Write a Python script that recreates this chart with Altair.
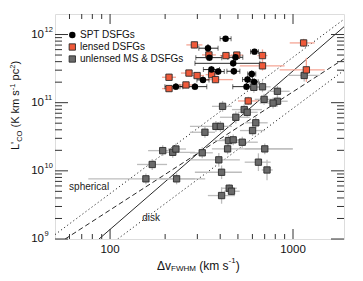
import altair as alt
import pandas as pd
import numpy as np

# ---------------- data ----------------
spt_x = [428, 343, 349, 616, 485, 471, 358, 390, 475, 595, 564, 613, 322, 557, 291, 229]
spt_y = [8.7e11, 6.3e11, 4.58e11, 5.61e11, 4.63e11, 3.78e11, 3.06e11, 2.86e11,
         2.89e11, 2.64e11, 2.18e11, 2.02e11, 2.16e11, 1.72e11, 1.72e11, 1.72e11]
spt_xlo = [0.03, 0.05, 0.074, 0.022, 0.042, 0.209, 0.044, 0.033, 0.038, 0.022, 0.027, 0.022, 0.033, 0.075, 0.082, 0.06]
spt_xhi = [0.03, 0.055, 0.068, 0.022, 0.04, 0.146, 0.044, 0.033, 0.033, 0.022, 0.027, 0.022, 0.033, 0.034, 0.065, 0.038]
spt_ydex = [0.03, 0.06, 0.05, 0.04, 0.05, 0.05, 0.05, 0.05, 0.05, 0.05, 0.05, 0.05, 0.05, 0.05, 0.05, 0.05]

len_x = [289, 347, 430, 681, 681, 270, 299, 359, 377, 260, 210, 210, 1143, 1183, 569, 493]
len_y = [7.04e11, 5.02e11, 4.91e11, 4.91e11, 3.47e11, 2.72e11, 2.50e11, 2.58e11,
         2.18e11, 1.82e11, 2.36e11, 1.61e11, 7.53e11, 3.03e11, 1.06e11, 4.99e11]
len_xlo = [0.044, 0.038, 0.033, 0.027, 0.124, 0.044, 0.038, 0.033, 0.05, 0.038, 0.038, 0.038, 0.076, 0.146, 0.056, 0.033]
len_xhi = [0.044, 0.038, 0.033, 0.027, 0.121, 0.044, 0.038, 0.033, 0.095, 0.038, 0.038, 0.038, 0.06, 0.1, 0.053, 0.033]
len_ydex = [0.05, 0.05, 0.05, 0.09, 0.07, 0.05, 0.05, 0.05, 0.05, 0.05, 0.05, 0.05, 0.06, 0.176, 0.06, 0.05]

gray_x = [681, 611, 1151, 822, 695, 822, 778, 412, 541, 562,
          487, 626, 379, 401, 601, 330, 444, 471, 528, 439,
          701, 194, 220, 229, 319, 170, 393, 647, 157, 231,
          407, 721, 448, 461, 407]
gray_y = [1.71e11, 1.68e11, 2.51e11, 1.47e11, 1.12e11, 1.05e11, 9.87e10, 8.83e10, 7.92e10, 7.23e10,
          6.11e10, 5.07e10, 4.49e10, 4.49e10, 3.90e10, 3.68e10, 2.78e10, 2.85e10, 2.63e10, 2.10e10,
          2.10e10, 1.98e10, 1.87e10, 2.09e10, 1.84e10, 1.24e10, 1.45e10, 1.34e10, 7.63e9, 7.63e9,
          9.53e9, 1.03e10, 5.56e9, 5.02e9, 4.34e9]
gray_xlo = [0.044, 0.033, 0.09, 0.053, 0.051, 0.053, 0.073, 0.058, 0.067, 0.052,
            0.087, 0.06, 0.142, 0.046, 0.069, 0.082, 0.075, 0.062, 0.079, 0.086,
            0.109, 0.08, 0.069, 0.044, 0.067, 0.083, 0.158, 0.075, 0.315, 0.091,
            0.146, 0.029, 0.045, 0.042, 0.075]
gray_xhi = [0.044, 0.033, 0.085, 0.067, 0.058, 0.056, 0.047, 0.051, 0.097, 0.057,
            0.076, 0.065, 0.049, 0.063, 0.067, 0.055, 0.089, 0.064, 0.085, 0.356,
            0.153, 0.073, 0.122, 0.055, 0.058, 0.081, 0.115, 0.067, 0.324, 0.1,
            0.111, 0.031, 0.042, 0.045, 0.073]
gray_ydex = [0.08, 0.08, 0.09, 0.08, 0.08, 0.08, 0.08, 0.08, 0.08, 0.08,
             0.09, 0.08, 0.08, 0.08, 0.08, 0.08, 0.08, 0.08, 0.08, 0.08,
             0.08, 0.08, 0.08, 0.08, 0.08, 0.08, 0.10, 0.13, 0.08, 0.08,
             0.10, 0.15, 0.06, 0.06, 0.12]

# model / relation lines (end points)
solid_x = [87, 1900]
solid_y = [1e9, 1.3e12]
dash_x = [56.8, 1900]
dash_y = [1e9, 4.4e11]
dotu_x = [50, 1900]
dotu_y = [1.16e9, 1.675e12]
dotl_x = [110, 1900]
dotl_y = [1e9, 2.98e11]

x_major = [100, 1000]
x_major_lbl = ["100", "1000"]
x_minor = [60, 70, 80, 90, 200, 300, 400, 500, 600, 700, 800, 900]
y_major = [1e9, 1e10, 1e11, 1e12]
y_major_exp = ["9", "10", "11", "12"]
y_minor = [2e9, 3e9, 4e9, 5e9, 6e9, 7e9, 8e9, 9e9,
           2e10, 3e10, 4e10, 5e10, 6e10, 7e10, 8e10, 9e10,
           2e11, 3e11, 4e11, 5e11, 6e11, 7e11, 8e11, 9e11]

legend_labels = ["SPT DSFGs", "lensed DSFGs", "unlensed MS & DSFGs"]

# ---------------- build ----------------
W, H = 289, 225
FONT = "Liberation Sans"
RED = "#f05a3a"
GRAYF = "#6a6a6a"

xs = alt.Scale(type="log", domain=[50, 1900], nice=False)
ys = alt.Scale(type="log", domain=[1e9, 2e12], nice=False)


def grp(xv, yv, xlo, xhi, ydex):
    df = pd.DataFrame({"x": xv, "y": yv})
    df["xl"] = df["x"] / 10 ** np.array(xlo)
    df["xh"] = df["x"] * 10 ** np.array(xhi)
    df["yl"] = df["y"] / 10 ** np.array(ydex)
    df["yh"] = df["y"] * 10 ** np.array(ydex)
    return df


spt = grp(spt_x, spt_y, spt_xlo, spt_xhi, spt_ydex)
lens = grp(len_x, len_y, len_xlo, len_xhi, len_ydex)
gray = grp(gray_x, gray_y, gray_xlo, gray_xhi, gray_ydex)

X = lambda f: alt.X(f, type="quantitative", scale=xs, axis=None)
Y = lambda f: alt.Y(f, type="quantitative", scale=ys, axis=None)


def line(xv, yv, dash):
    df = pd.DataFrame({"x": xv, "y": yv})
    kw = dict(color="#111", strokeWidth=0.9, clip=True)
    if dash:
        kw["strokeDash"] = dash
    return alt.Chart(df).mark_line(**kw).encode(x=X("x"), y=Y("y"))


lines = [line(solid_x, solid_y, None), line(dash_x, dash_y, [5, 3]),
         line(dotu_x, dotu_y, [1.2, 2.6]), line(dotl_x, dotl_y, [1.2, 2.6])]


def errbars(df, color, width):
    h = alt.Chart(df).mark_rule(color=color, strokeWidth=width, clip=True).encode(
        x=X("xl"), x2="xh", y=Y("y"))
    v = alt.Chart(df).mark_rule(color=color, strokeWidth=width, clip=True).encode(
        x=X("x"), y=Y("yl"), y2="yh")
    return [h, v]


gray_eb = errbars(gray, "#bdbdbd", 1.3)
red_eb = errbars(lens, "#f5a595", 1.3)
blk_eb = errbars(spt, "#111", 0.9)
caps = [alt.Chart(spt).mark_tick(orient="vertical", size=5, thickness=0.9, color="#111").encode(
            x=X(f), y=Y("y")) for f in ["xl", "xh"]]

gray_pts = alt.Chart(gray).mark_square(size=40, fill=GRAYF, stroke="#2a2a2a", strokeWidth=0.9,
                                       opacity=1).encode(x=X("x"), y=Y("y"))
red_pts = alt.Chart(lens).mark_square(size=40, fill=RED, stroke="#2a2a2a", strokeWidth=0.9,
                                      opacity=1).encode(x=X("x"), y=Y("y"))
blk_pts = alt.Chart(spt).mark_circle(size=42, color="#000", opacity=1).encode(x=X("x"), y=Y("y"))

# ---- inward ticks on all four sides ----
TC = "#333"
xmaj = pd.DataFrame({"v": x_major, "t": x_major_lbl})
xmin = pd.DataFrame({"v": x_minor})
ymaj = pd.DataFrame({"v": y_major, "e": y_major_exp})
ymin = pd.DataFrame({"v": y_minor})


def xticks(df, ln):
    return [alt.Chart(df).mark_rule(color=TC, strokeWidth=1).encode(
                x=X("v"), y=alt.value(H), y2=alt.value(H - ln)),
            alt.Chart(df).mark_rule(color=TC, strokeWidth=1).encode(
                x=X("v"), y=alt.value(0), y2=alt.value(ln))]


def yticks(df, ln):
    return [alt.Chart(df).mark_rule(color=TC, strokeWidth=1).encode(
                y=Y("v"), x=alt.value(0), x2=alt.value(ln)),
            alt.Chart(df).mark_rule(color=TC, strokeWidth=1).encode(
                y=Y("v"), x=alt.value(W), x2=alt.value(W - ln))]


ticks = xticks(xmaj, 10) + xticks(xmin, 5) + yticks(ymaj, 13) + yticks(ymin, 7)

xlabels = alt.Chart(xmaj).mark_text(font=FONT, fontSize=11.5, color="#111", baseline="middle",
                                    align="center").encode(x=X("v"), y=alt.value(H + 11), text="t:N")
ylab10 = alt.Chart(ymaj).mark_text(font=FONT, fontSize=11.5, color="#111", baseline="middle",
                                   align="right").encode(y=Y("v"), x=alt.value(-11), text=alt.value("10"))
ylabexp = alt.Chart(ymaj).mark_text(font=FONT, fontSize=7.5, color="#111", baseline="middle",
                                    align="left", dy=-5).encode(y=Y("v"), x=alt.value(-10.5), text="e:N")

# ---- annotations ----
ann = pd.DataFrame({"x": [59.7, 150], "y": [5.78e9, 2.0e9], "t": ["spherical", "disk"]})
ann_txt = alt.Chart(ann).mark_text(font=FONT, fontSize=10, color="#222", align="left",
                                   baseline="middle").encode(x=X("x"), y=Y("y"), text="t:N")

# ---- legend (manual) ----
one = pd.DataFrame({"a": [0]})
leg = [
    alt.Chart(one).mark_circle(size=42, color="#000", opacity=1).encode(
        x=alt.value(17.3), y=alt.value(21)),
    alt.Chart(one).mark_square(size=40, fill=RED, stroke="#2a2a2a", strokeWidth=0.9, opacity=1).encode(
        x=alt.value(17.3), y=alt.value(33)),
    alt.Chart(one).mark_square(size=40, fill=GRAYF, stroke="#2a2a2a", strokeWidth=0.9, opacity=1).encode(
        x=alt.value(17.3), y=alt.value(45)),
]
for i, lab in enumerate(legend_labels):
    leg.append(alt.Chart(one).mark_text(font=FONT, fontSize=10, color="#111", align="left",
                                        baseline="middle").encode(
        x=alt.value(25), y=alt.value(21 + 12 * i), text=alt.value(lab)))


# ---- axis titles built from pieces (sub/superscripts) ----
def txt(s, x, y, size, angle=0, align="left"):
    return alt.Chart(one).mark_text(font=FONT, fontSize=size, color="#111", align=align,
                                    baseline="middle", angle=angle).encode(
        x=alt.value(x), y=alt.value(y), text=alt.value(s))


XT_Y = 251.5
xtitle = [txt("Δv", 102, XT_Y, 12), txt("FWHM", 116, XT_Y + 3.5, 8),
          txt("(km s", 144.2, XT_Y, 12), txt("-1", 173.6, XT_Y - 5, 8),
          txt(")", 180.7, XT_Y, 12)]

YT_X = -39
ytitle = [txt("L'", YT_X, 136, 11, 270), txt("CO", YT_X + 3.5, 127.8, 7.5, 270),
          txt("(K km s", YT_X, 113.5, 11, 270), txt("-1", YT_X - 3, 76.2, 7.5, 270),
          txt("pc", YT_X, 66.4, 11, 270), txt("2", YT_X - 3, 54.8, 7.5, 270),
          txt(")", YT_X, 50.6, 11, 270)]

layers = (lines + gray_eb + red_eb + blk_eb + caps + [gray_pts, red_pts, blk_pts]
          + ticks + [xlabels, ylab10, ylabexp, ann_txt] + leg + xtitle + ytitle)

chart = alt.layer(*layers).properties(
    width=W, height=H,
    padding={"left": 47, "top": 6, "right": 11, "bottom": 34},
    autosize=alt.AutoSizeParams(type="none"),
).configure_view(stroke="#333", strokeWidth=1).configure(font=FONT)

chart.save("out.html", embed_options={"renderer": "svg", "actions": False})
